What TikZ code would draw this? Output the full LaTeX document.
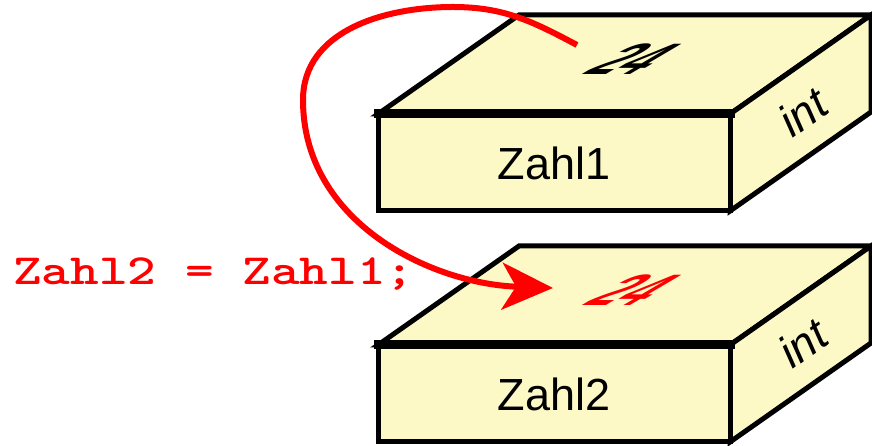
\documentclass[tikz,border=0pt]{standalone}
\usepackage{fontspec}
\setmainfont{Liberation Sans}
\newfontfamily\codefont{lmmonolt10-bold.otf}
\usetikzlibrary{arrows.meta}
\definecolor{colBox}{HTML}{FCF9C6}
\definecolor{colAssign}{HTML}{FF0000}
\tikzset{
  boxface/.style={draw=black,fill=colBox,line width=5pt,line join=miter},
  boxrim/.style={draw=black,line width=9pt,line cap=rect},
  namelabel/.style={font=\fontsize{45}{50}\selectfont,inner sep=0pt},
  typelabel/.style={font=\fontsize{45}{50}\selectfont\itshape,rotate=35,inner sep=0pt},
  valuelabel/.style={font=\fontsize{50}{52}\selectfont\bfseries,inner sep=0pt,
    xslant=1.7,yscale=0.88,transform shape},
  codetext/.style={font=\fontsize{43}{48}\selectfont\codefont,
    text=colAssign,inner sep=0pt,xscale=1.27,transform shape},
  assignarr/.style={-{Stealth[length=51pt,width=47pt,inset=14pt]},line width=6pt,
    draw=colAssign},
}
% one int cell as a flat box: #1 shift, #2 name, #3 colour of the value
\newcommand{\varbox}[3]{%
  \begin{scope}[yshift=#1]
    \filldraw[boxface] (378,332) -- (519,431) -- (871,431) -- (730,332) -- cycle;
    \filldraw[boxface] (730,235) -- (871,334) -- (871,431) -- (730,332) -- cycle;
    \filldraw[boxface] (378,235) rectangle (730,332);
    \draw[boxrim] (378,332) -- (730,332);
    \node[namelabel] (#2) at (554,283) {#2};
    \node[typelabel] (#2-type) at (803,334) {int};
    \node[valuelabel,text=#3] (#2-val) at (634,387) {24};
  \end{scope}}

\begin{document}
\begin{tikzpicture}[x=1pt,y=1pt]
  \useasboundingbox (0,0) rectangle (872,446);
  \varbox{0pt}{Zahl1}{black}
  \varbox{-231pt}{Zahl2}{colAssign}
  \node[codetext,anchor=base west] (code) at (13,161) {Zahl2 = Zahl1;};
  \coordinate (src) at (577,401);
  \coordinate (dst) at (553,158);
  \draw[assignarr] (src) to[out=152,in=0] (453,439) to[out=180,in=90] (303,346)
    to[out=-90,in=178] (dst);
\end{tikzpicture}
\end{document}
